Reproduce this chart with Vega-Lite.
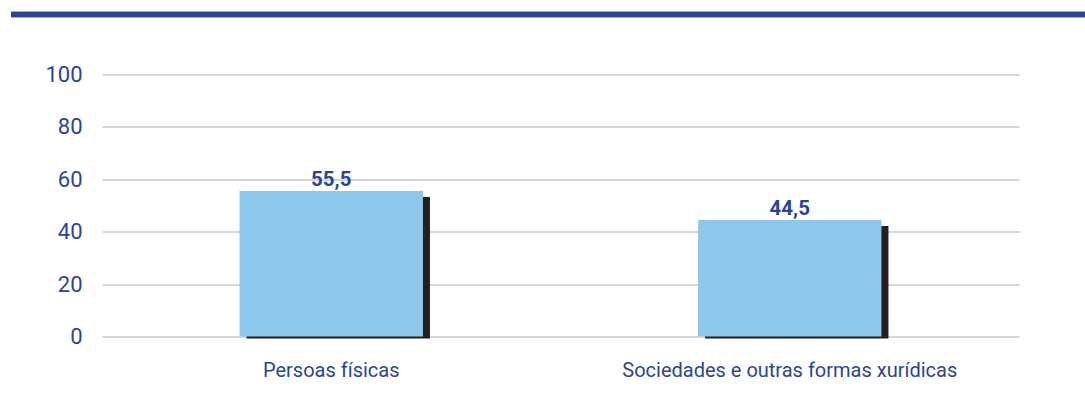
{
  "$schema": "https://vega.github.io/schema/vega-lite/v6.json",
  "autosize": {"type": "none"},
  "width": 917,
  "height": 262,
  "padding": {"left": 102, "top": 74.5, "right": 66, "bottom": 68.5},
  "background": "white",
  "config": {"view": {"stroke": null}, "font": "Roboto"},
  "data": {"values": [
    {"cat": "Persoas físicas", "value": 55.5, "label": "55,5"},
    {"cat": "Sociedades e outras formas xurídicas", "value": 44.5, "label": "44,5"}
  ]},
  "encoding": {
    "x": {"field": "cat", "type": "nominal", "sort": null,
      "scale": {"paddingInner": 0, "paddingOuter": 0},
      "axis": {"title": null, "domain": false, "ticks": false, "labelAngle": 0, "labelLimit": 0,
        "labelFont": "Roboto", "labelFontSize": 20, "labelColor": "#2B4594", "labelPadding": 24}}
  },
  "layer": [
    {
      "mark": {"type": "rule", "color": "#2B4594", "strokeWidth": 5.5, "yOffset": -60, "xOffset": -91, "x2Offset": 66},
      "encoding": {
        "x": {"datum": "Persoas físicas", "type": "nominal", "bandPosition": 0},
        "x2": {"datum": "Sociedades e outras formas xurídicas", "bandPosition": 1},
        "y": {"datum": 100, "type": "quantitative"}
      }
    },
    {
      "mark": {"type": "bar", "color": "#231F20", "width": {"band": 0.4}, "xOffset": 7, "yOffset": 6, "y2Offset": 2},
      "encoding": {
        "y": {"field": "value", "type": "quantitative",
          "scale": {"domain": [0, 100], "nice": false},
          "axis": {"title": null, "values": [0, 20, 40, 60, 80, 100], "domain": false, "ticks": false,
            "grid": true, "gridColor": "#C8C8C8", "gridWidth": 1.5,
            "labelFont": "Roboto", "labelFontSize": 22, "labelColor": "#2B4594", "labelPadding": 20}},
        "y2": {"datum": 0}
      }
    },
    {
      "mark": {"type": "bar", "color": "#8FC7EB", "width": {"band": 0.4}},
      "encoding": {
        "y": {"field": "value", "type": "quantitative"},
        "y2": {"datum": 0}
      }
    },
    {
      "mark": {"type": "text", "color": "#2B4594", "fontWeight": "bold", "fontSize": 20.5, "baseline": "alphabetic", "dy": -5, "font": "Roboto"},
      "encoding": {
        "y": {"field": "value", "type": "quantitative"},
        "text": {"field": "label"}
      }
    }
  ]
}
